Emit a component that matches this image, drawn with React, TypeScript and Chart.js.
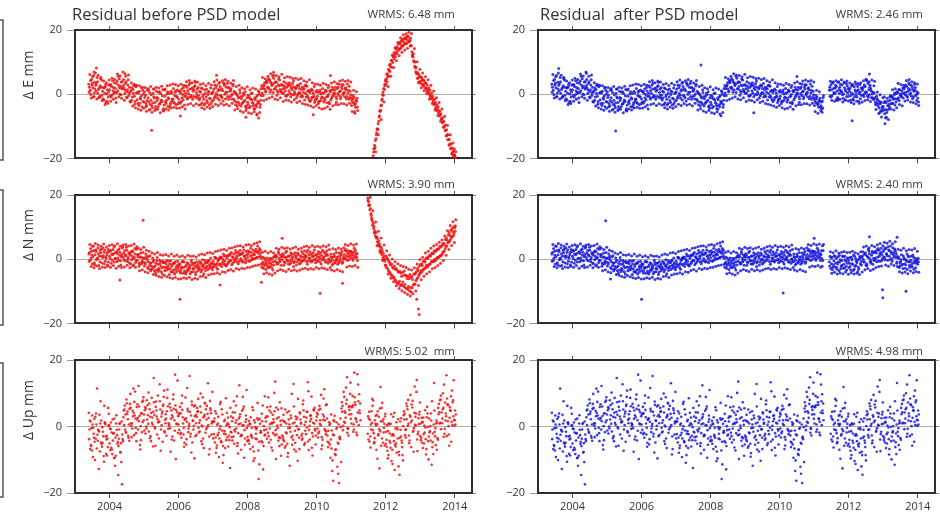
import React, { useEffect, useRef } from "react";
import { Chart, registerables } from "chart.js";

Chart.register(...registerables);

// ---------- sampling epochs (decimal years) ----------
// Each series is read in four interleaved passes (A, B, C, D), one value every 0.04 yr per pass.
const EPOCH_START = 2003.4;
const EPOCH_STEP = 0.04;
const PASS_OFFSETS = [0, 0.01, 0.02, 0.03];
const POST_START_INDEX = 195; // 2011.20

// ---------- axes ----------
const yearTicks = [2004, 2006, 2008, 2010, 2012, 2014];
const valueTicks = [-20, 0, 20];
const xRange = [2003, 2014.5];
const yRange = [-20, 20];

// ---------- labels ----------
const panelTitles = ["Residual before PSD model", "Residual  after PSD model"];
const componentLabels = ["\u0394 E mm", "\u0394 N mm", "\u0394 Up mm"];
const wrmsBefore = ["WRMS: 6.48 mm", "WRMS: 3.90 mm", "WRMS: 5.02  mm"];
const wrmsAfter = ["WRMS: 2.46 mm", "WRMS: 2.40 mm", "WRMS: 4.98 mm"];

// ---------- East residuals (mm), 2003.40 .. 2011.16 (same in both models) ----------
const eastPreA = [
  3.1, 1.2, 4.6, 2.0, 0.4, 2.8, 5.2, 1.5, -0.6, 2.2, 0.9, -1.8, 2.4, 0.1, -0.9,
  1.4, 3.0, -0.2, 2.1, 0.6, 3.4, 1.1, 4.8, 2.5, 1.6, 2.7, 0.2, 3.9, 1.4, -0.4, 0.8, -1.9, 1.5, -0.6, 2.3, -1.7, 0.4, -2.8, -0.5, 1.2,
  -2.4, -0.3, -3.6, -1.1, 0.5, -1.9, -4.2, -0.8, -2.6, 0.9, -1.3, -3.1, 0.2, -2.2, -4.5, -0.6, -2.9, 0.8, -1.4, -3.3, 0.4, -1.6, -2.8, 1.1, -0.9,
  -1.5, 0.9, -2.3, -0.1, 1.0, 0.3, 2.2, -1.2, 1.6, -0.4, 1.9, -0.7, 2.6, 0.5, -1.3, -1.8, 0.6, -2.7, -0.2, 1.3, -0.9, -2.6, 0.7, -1.4, 0.2,
  0.8, -1.1, 2.0, -0.3, 1.5, 2.4, -0.6, 1.1, 3.2, -1.4, 0.6, 2.1, -0.8, 1.7, 0.1, -1.6, 0.5, -2.4, -0.7, -3.1, -0.8, -2.9, 0.3, -1.9, -3.6,
  -2.5, -0.6, -3.8, -1.7, -2.9, -1.2, -3.4, -0.4, -2.6, -4.1, -0.5, 1.8, 2.9, 0.7, 3.6, 2.2, 4.4, 1.3, 3.1, 5.0, 1.6, 3.7, 0.5, 2.6, 1.0,
  2.8, 0.4, 1.9, 3.5, -0.2, 1.1, 2.7, -0.1, 2.3, 0.8, 1.7, -0.5, 2.6, 0.3, 1.4, -0.7, 1.6, 0.2, 2.5, -1.1, 0.5, -1.7, 1.2, -0.6, -2.0,
  -1.4, 0.6, -2.2, 0.1, -0.9, 0.4, -1.8, 1.0, -0.6, -2.5, 0.7, -1.2, 1.5, 0.2, -0.8, 1.8, -0.4, 0.9, 2.3, -0.1, 0.6, 2.0, -0.7, 1.2, -1.0,
  -1.2, -2.6, -0.9, -3.0, -2.2,
];
const eastPreB = [
  0.6, 4.3, 2.9, -0.8, 3.7, 1.0, 3.9, -1.1, 2.6, 4.4, -1.4, 1.9, 3.1, -2.2, 0.7,
  2.9, -0.9, 4.2, 0.3, 1.8, 0.5, 5.6, 2.0, -0.2, 3.9, 4.6, 1.3, -0.9, 2.9, 0.4, -2.4, 1.9, 0.3, -3.1, 2.8, 0.6, -3.5, -1.1, 1.9, -2.3,
  0.7, -3.9, -2.0, 1.4, -4.8, -0.2, -2.7, 1.6, -3.8, -1.0, -3.9, 0.8, -2.4, -0.5, -5.2, 1.6, -1.9, -3.8, 0.2, -2.7, -2.1, 1.8, -0.4, -3.3, 1.3,
  0.9, -2.8, 1.6, -1.7, -3.4, 2.6, -1.5, 0.2, 3.4, -0.9, -1.6, 1.4, 3.7, -0.5, 2.1, 0.9, -3.2, 1.7, -1.6, -2.9, 1.6, -0.1, -3.4, 1.9, -2.2,
  -1.8, 2.9, 0.2, -1.3, 3.4, -0.3, 1.7, -2.1, 2.8, 0.6, 3.3, -1.6, 0.9, -0.4, 2.6, 0.9, -3.3, -0.2, -2.5, 1.4, -3.7, -0.6, -2.3, 0.8, -4.4,
  -0.3, -4.2, -1.5, 0.4, -3.6, -4.6, -0.9, -2.9, 0.7, -3.2, 2.7, -0.4, 3.6, 1.0, 4.3, 4.8, 0.6, 3.4, 5.6, 1.7, 3.9, -0.3, 2.9, 4.4, 0.8,
  0.3, 3.9, 1.1, -0.6, 2.7, 3.6, -0.8, 1.5, 4.1, 0.2, -1.2, 2.9, 0.5, 3.3, -0.4, 1.9, -1.8, 2.8, -0.5, 1.2, -2.3, 1.6, -0.9, 2.4, -1.5,
  1.2, -2.9, 0.7, -1.9, 1.8, -2.4, 1.3, -0.8, 2.1, -3.0, -1.7, 2.2, -0.2, 1.3, -2.5, 0.2, 3.1, -1.4, 1.6, 2.9, -0.8, 1.4, 3.2, -1.6, 0.9,
  -3.5, -0.4, -2.7, -4.1, -1.3,
];
const eastPreC = [
  2.2, -0.1, 3.4, 5.8, 1.6, 3.3, 0.3, 2.0, 4.9, -0.3, 2.1, 0.3, -2.6, 1.4, 2.9,
  -0.4, 2.4, 1.1, 3.6, -1.2, 4.1, 2.8, 0.1, 3.8, 1.9, 1.9, 3.3, 0.8, 4.5, 2.2, 1.1, -0.9, 2.7, -2.3, 0.4, -2.9, 0.9, -1.5, -3.9, 0.1,
  -1.0, -2.9, 1.2, -2.4, -3.1, -3.5, 0.3, -1.2, -4.6, -2.0, 0.6, -2.9, -1.8, 1.5, -3.4, -2.4, 0.1, -1.1, -4.0, 0.9, -1.5, -2.6, 0.6, -0.7, -3.0,
  -2.4, 0.4, -1.1, 2.1, -0.6, -0.6, 1.1, 2.9, -0.8, 1.7, 0.9, 2.4, -1.0, 1.6, -0.3, -1.2, 1.9, -0.7, -3.4, 0.3, -2.0, 0.9, -1.3, -2.9, 0.4,
  1.6, -0.6, 2.7, 1.0, -1.8, 1.3, -1.1, 3.6, 0.0, 2.2, -0.7, 2.0, 1.2, -1.5, 3.1, -2.1, 0.2, -3.7, -1.2, 0.5, -1.4, -2.6, -0.2, -3.9, -1.1,
  -3.2, -1.3, 0.2, -2.6, -4.5, -1.7, -3.8, -2.2, 0.0, -1.9, 0.4, 2.5, 1.6, 4.0, 2.1, 1.6, 3.8, 2.7, 0.5, 3.6, 2.4, 1.1, 4.7, 1.5, 3.0,
  1.7, 2.6, -0.5, 2.2, 3.0, 0.4, 1.9, 3.3, -0.2, 2.0, 2.4, 0.1, 1.8, -0.9, 2.2, 0.6, 2.6, -0.9, 0.9, -1.8, 1.1, -1.0, 0.3, -2.6, 0.8,
  -0.6, -2.3, 1.3, -1.1, 0.4, -1.3, 0.8, -2.7, -0.1, 1.1, 1.2, -0.6, 0.4, 2.2, -1.4, 2.2, 0.8, -0.8, 3.0, 0.3, 1.8, -1.4, 0.4, 2.5, -0.2,
  -2.0, -1.4, -3.3, -1.9, -4.0,
];
const eastPreD = [
  6.1, -1.2, 5.4, -0.8, 6.6, -1.5, 5.9, -0.9, 5.2, -2.0, 4.1, -3.2, 3.6, -2.9, 4.4,
  -2.2, 5.0, -1.6, 4.6, -2.6, 6.3, -0.8, 5.7, -1.3, 6.9, -1.9, 5.6, -1.1, 6.0, -2.3, 3.6, -3.7, 3.1, -4.2, 2.7, -4.6, 2.6, -5.0, 2.2, -4.4,
  2.1, -5.3, 1.8, -4.9, 2.4, -5.6, 1.6, -5.1, 2.2, -4.7, 1.9, -5.8, 2.5, -5.0, 1.3, -4.6, 2.6, -4.9, 2.9, -4.3, 3.2, -4.1, 3.0, -4.4, 2.6,
  -4.3, 3.1, -3.9, 2.8, -4.6, 3.9, -3.2, 4.3, -2.9, 3.6, -3.5, 4.1, -3.0, 3.8, -3.4, 3.0, -4.2, 3.3, -4.6, 2.7, -4.0, 3.4, -4.4, 2.9, -3.8,
  3.9, -3.1, 4.4, -3.5, 3.7, -2.9, 4.2, -3.4, 4.6, -3.1, 4.0, -3.6, 3.5, -2.8, 4.3, -4.9, 2.4, -4.5, 2.8, -5.2, 2.0, -5.6, 1.7, -5.1, 2.3,
  -5.8, 1.4, -6.0, 1.9, -5.5, 1.6, -6.2, 1.1, -5.7, 1.8, 5.2, -2.0, 4.8, -1.6, 5.6, -1.2, 6.4, -0.8, 6.0, -1.5, 5.8, -1.7, 5.4, -1.1, 6.2,
  -2.3, 5.1, -1.8, 5.5, -2.0, 5.3, -2.4, 4.9, -1.7, 5.0, -2.6, 4.6, -2.2, 4.9, -2.9, 4.2, -3.1, 3.8, -3.4, 4.5, -3.7, 3.6, -4.1, 3.2, -3.5,
  3.1, -4.2, 2.8, -4.6, 3.4, -4.4, 3.0, -3.9, 2.7, -4.7, 3.5, -3.6, 3.9, -3.2, 3.3, -3.3, 4.1, -2.9, 4.4, -3.0, 4.0, -3.4, 4.3, -2.8, 3.8,
  -5.4, 1.2, -5.9, 0.8, -5.1,
];

// East, 2011.20 .. 2014.00, before PSD model (post-seismic transient)
const eastPostBeforeA = [
  null, null, null, null, null, null, null, null, null, null, null, -19.2, -15.9, -13.9, -10.8, -8.4, -5.2, -3.4, 0.6, 1.5,
  4.6, 3.9, 7.8, 7.1, 10.6, 9.9, 12.9, 11.7, 14.8, 13.6, 16.2, 14.4, 17.1, 15.3, 17.6, 15.7, 18.1, 16.4, 17.4, 13.2, 12.6, 8.7, 8.4, 4.9, 6.1,
  3.6, 5.2, 2.7, 4.1, 1.6, 2.9, 0.1, 1.3, -1.4, -0.6, -3.3, -2.6, -5.1, -4.0, -6.8, -6.1, -8.9, -8.4, -11.3, -11.1, -14.2, -14.1, -17.0, -16.7, -19.2,
  -18.9,
];
const eastPostBeforeB = [
  null, null, null, null, null, null, null, null, null, null, null, -18.0, -16.6, -12.6, -10.9, -7.1, -5.0, -1.9, -0.3, 3.0,
  3.1, 6.4, 5.6, 9.3, 8.4, 11.9, 11.0, 14.1, 12.6, 15.6, 14.1, 16.6, 14.9, 17.3, 15.8, 17.9, 16.2, 16.8, 15.1, 12.3, 10.4, 10.0, 6.6, 6.7, 3.9,
  5.3, 3.1, 4.4, 2.2, 3.5, 0.9, 2.0, -0.8, 0.4, -2.4, -1.6, -4.4, -3.3, -5.9, -5.2, -7.8, -7.3, -10.2, -9.6, -12.9, -12.6, -15.8, -15.4, -18.3, -17.6,
  -19.6,
];
const eastPostBeforeC = [
  null, null, null, null, null, null, null, null, null, null, null, -17.1, -14.4, -12.0, -9.2, -6.7, -3.6, -1.5, 1.8, 2.6,
  4.8, 5.5, 7.4, 8.7, 10.4, 11.6, 12.4, 13.1, 14.5, 14.0, 15.7, 15.1, 16.6, 16.0, 17.3, 16.9, 17.8, 16.6, 15.2, 11.8, 10.1, 8.2, 6.4, 5.1, 5.7,
  4.0, 4.6, 3.0, 3.5, 1.9, 1.4, 0.5, -0.3, -1.1, -1.8, -3.0, -3.9, -4.8, -5.4, -6.5, -7.6, -8.6, -9.9, -11.2, -12.6, -14.1, -15.5, -16.9, -18.0, -19.0,
  -19.8,
];
const eastPostBeforeD = [
  null, null, null, null, null, null, null, null, null, null, null, -16.8, -17.9, -10.9, -12.6, -5.3, -7.9, -0.2, -2.4, 4.1,
  6.2, 2.4, 9.1, 5.6, 12.2, 8.3, 14.5, 10.4, 16.1, 12.0, 17.6, 13.1, 18.5, 13.8, 18.8, 14.3, 19.3, 15.0, 18.9, 11.6, 14.2, 7.0, 10.1, 3.6, 7.8,
  2.0, 6.6, 1.1, 5.4, 0.3, 4.5, -1.6, 2.8, -2.9, 1.0, -4.9, -1.1, -6.6, -2.6, -8.4, -4.6, -10.3, -6.9, -13.0, -9.7, -15.8, -12.6, -18.6, -15.2, -17.1,
  -17.9,
];

// East, 2011.20 .. 2014.00, after PSD model
const eastPostAfterA = [
  -3.6, -2.1, null, null, null, null, 1.2, 2.9, -0.4, 1.8, 0.3, 2.4, -1.0, 1.5, 3.1, 0.6, -1.3, 2.0, 0.9, 2.6,
  -0.6, 1.9, 0.4, -1.5, 2.3, 0.7, -0.9, 1.4, 3.0, -0.3, 1.2, -0.7, 2.4, 0.5, 3.3, -0.2, 1.7, 0.1, -1.6, -1.1, -2.8, -1.9, -4.2, -3.0, -5.3,
  -3.8, -6.1, -2.7, -4.9, -3.2, -1.9, -0.6, -2.8, -0.2, -1.4, 0.8, -1.1, 1.4, -0.5, 0.3, 1.6, -0.2, 2.5, 0.9, 3.1, 0.4, 2.2, -0.8, 1.3, -0.1,
  -1.2,
];
const eastPostAfterB = [
  -2.4, -4.3, null, null, null, null, 2.2, -0.9, 3.4, 0.5, 1.9, -1.6, 3.7, 0.2, 1.0, 2.9, 0.1, -1.8, 3.3, 0.4,
  1.6, -1.9, 2.8, 0.0, -0.8, 3.1, 1.1, -2.2, 0.6, 2.0, -0.3, 2.9, 0.8, 4.1, -0.9, 2.2, 1.0, -1.2, 2.6, -2.4, -0.6, -3.6, -2.2, -5.1, -3.9,
  -5.0, -2.2, -7.2, -3.6, -4.6, -0.4, -2.9, -1.3, 0.4, -2.4, -1.6, 1.5, 0.1, -0.9, 2.0, 0.4, 2.9, -0.6, 1.8, 0.0, 2.8, -1.4, 0.9, 2.1, -2.0,
  0.4,
];
const eastPostAfterC = [
  -4.5, -1.0, null, null, null, null, -0.6, 1.4, 3.8, 0.2, 2.8, 0.9, -1.6, 2.2, 1.1, -0.2, 3.6, 1.3, -0.7, 1.8,
  0.9, -0.4, 2.6, -1.8, 1.3, -0.2, 2.4, 0.3, -1.4, 1.7, 2.1, 0.2, 4.6, -0.5, 1.4, 2.8, -1.0, 0.7, 0.4, -3.3, -1.4, -2.9, -5.7, -2.5, -4.4,
  -2.6, -4.8, -5.7, -2.1, -3.9, -3.0, -0.9, -1.6, -3.4, 0.2, 0.5, -2.0, -0.3, 1.1, -1.2, 2.2, 0.6, -0.9, 3.6, 1.4, -0.6, 1.5, 3.0, -0.4, 0.8,
  -2.4,
];
const eastPostAfterD = [
  -5.6, -0.4, null, null, null, null, 4.0, -1.9, 3.7, -2.2, 4.2, -2.0, 3.9, -1.6, 4.5, -2.4, 3.8, -1.8, 4.1, -2.1,
  3.5, -2.6, 3.1, -3.0, 3.8, -2.2, 3.3, -2.8, 3.6, -2.4, 4.2, -2.0, 4.6, -1.7, 3.9, -2.3, 4.4, -1.5, 4.0, -4.8, 0.7, -6.0, -0.2, -7.1, -1.1,
  -0.8, -7.4, -1.3, -7.9, -0.9, -4.6, 1.4, -4.9, 1.7, -4.2, 3.4, -3.2, 3.0, -3.6, 2.8, -2.1, 4.3, -1.8, 4.6, -2.4, 3.9, -2.6, 3.6, -3.0, 3.2,
  -3.5,
];

// ---------- North residuals (mm), 2003.40 .. 2011.16 ----------
const northPreA = [
  1.6, -0.4, 2.5, 0.8, -1.1, 2.9, 0.3, 1.7, -0.8, 3.1, 0.5, 2.2, -0.6, 1.4, 3.0,
  0.9, 2.6, -0.3, 1.8, 0.2, 2.3, 0.4, 3.2, -0.5, 1.5, 0.6, 2.7, 1.1, -0.7, 2.0, 1.3, -0.2, 2.4, 0.5, -1.0, -0.3, 1.4, -1.6, 0.7, -0.9,
  0.4, -1.5, 0.9, -0.8, -2.0, -1.2, -2.9, -0.3, -2.1, -3.4, -1.6, -3.3, -0.8, -2.7, -1.1, -3.6, -1.4, -2.5, -0.6, -3.0, -2.2, -4.1, -1.3, -3.2, -2.0,
  -3.5, -1.6, -2.9, -4.4, -0.9, -2.3, -3.8, -1.4, -2.8, -4.0, -1.7, -3.1, -2.2, -0.8, -3.6, -2.4, -1.0, -3.3, -1.8, -0.4, -2.7, -1.1, -0.3, -2.2, -1.5,
  -0.6, -2.0, 0.4, -1.3, -0.2, -1.5, 0.6, -0.8, 1.0, -1.9, 0.3, -1.1, 1.2, -0.4, 0.8, 1.6, -0.3, 0.9, 2.2, -0.6, 0.2, 1.8, -0.7, 1.1, 2.4,
  0.5, 2.3, 1.0, -0.2, 2.9, 1.4, 3.1, 0.6, 2.5, 1.8, 0.3, -0.9, -2.0, -0.4, -1.7, -0.5, -2.3, -1.1, 0.4, -1.8, -0.6, 0.9, -1.4, 0.3, 1.2,
  -0.2, 1.3, -1.0, 0.6, -0.5, 0.9, -1.3, 0.2, 1.6, -0.7, 0.4, -0.9, 1.5, -0.3, 0.7, 1.8, -0.1, 0.9, 2.2, -0.6, 0.3, 1.6, -0.4, 1.1, 0.0,
  1.4, -0.5, 0.8, 2.1, -0.2, 0.6, 1.9, -0.7, 1.2, 0.1, -0.8, 0.5, -1.4, 0.9, -0.3, 0.7, -1.1, 0.2, 1.3, -0.9, 1.5, 0.1, 2.3, 0.8, 1.9,
  0.4, 2.0, 1.1, 2.8, 0.6,
];
const northPreB = [
  -0.6, 3.3, 1.2, 4.0, -1.7, 2.4, 0.1, -2.0, 2.8, 1.0, 3.6, -1.4, 0.6, 2.1, -0.9,
  2.7, -1.3, 1.4, 3.8, 0.3, -0.8, 2.9, 1.2, -1.8, 3.5, 1.9, -0.5, 3.7, 0.0, 1.6, -1.4, 2.6, 0.2, 3.3, -0.4, 1.5, -2.2, 0.6, -1.4, 2.1,
  -2.1, 1.6, -0.2, -3.0, 1.1, -3.2, 0.4, -2.4, -4.3, -0.5, -3.8, -0.3, -2.2, -4.6, -1.0, -0.9, -3.4, -2.1, -4.8, -0.4, -3.9, -1.3, -4.6, -2.4, -0.6,
  -1.4, -4.3, -2.6, -0.6, -3.7, -4.6, -1.1, -3.4, -2.0, -0.3, -3.9, -1.2, -4.8, -2.6, -1.5, -0.7, -3.9, -2.2, -4.5, -1.3, -0.8, -3.2, -1.9, 0.4, -2.6,
  -2.4, 0.6, -1.7, -3.1, 0.3, 0.7, -2.3, -0.1, -1.6, 1.1, -1.6, 1.4, -0.3, 2.1, -1.3, -0.8, 2.7, 0.3, -1.4, 1.7, 1.5, -0.9, 2.9, 0.2, -0.5,
  2.6, -0.6, 3.4, 0.3, 1.7, 0.2, 2.4, 4.1, 0.8, 2.9, -2.5, 0.6, -1.4, -3.2, 0.4, -2.7, 0.3, -1.8, -3.4, 0.8, 1.4, -1.5, 2.3, -0.8, -1.9,
  1.7, -1.9, 0.5, 2.5, -1.4, -1.6, 2.0, -0.6, -2.3, 1.1, -1.8, 1.9, 0.1, -1.2, 2.4, -0.4, 2.6, 0.6, -1.6, 1.4, 2.3, -0.9, 0.8, 2.9, -1.1,
  -0.7, 2.4, 0.2, -1.5, 2.8, 2.3, -0.9, 1.6, -1.3, 3.0, 1.6, -1.8, 0.8, -1.1, 2.1, -1.6, 1.9, -0.6, 2.4, 0.0, 0.2, 3.0, -0.4, 2.6, 1.1,
  2.4, -0.3, 3.4, 0.5, 1.8,
];
const northPreC = [
  2.1, 0.3, -1.5, 2.7, 1.4, -0.2, 3.5, 0.9, 2.0, -1.2, 1.1, 2.9, 0.4, -1.8, 2.3,
  0.2, 1.6, 3.0, -0.9, 2.2, 1.8, -0.4, 2.2, 0.8, 3.9, -0.2, 1.4, 2.8, 0.5, -1.2, 2.2, 0.9, -1.7, 1.6, 3.1, 0.8, -1.2, 1.9, -0.6, 0.3,
  -1.0, 0.3, -2.6, 0.8, -1.2, -2.2, -0.8, -3.6, -1.3, 0.5, -2.9, -1.5, -3.9, -0.6, -2.4, -2.6, -0.4, -3.1, -1.5, -3.9, -1.6, -3.3, -0.8, -4.0, -2.7,
  -2.1, -3.7, -0.8, -2.5, -4.2, -1.8, -3.2, -2.4, -4.5, -1.0, -2.8, -1.3, -4.1, -2.0, -3.0, -3.1, -1.5, -0.2, -2.7, -3.5, -2.2, -0.5, -2.8, -1.2, -3.3,
  -1.4, 0.5, -2.6, -0.4, -1.8, 0.3, -1.4, 1.6, -0.6, -2.1, 0.9, -0.8, 1.7, -1.7, 0.5, 0.1, 1.9, -0.9, 1.2, 2.8, -0.3, 2.0, 0.9, -1.1, 1.4,
  1.6, -0.5, 2.2, 1.2, 0.1, 2.4, 0.5, 1.9, 3.3, 0.9, -1.4, -2.8, 0.2, -1.1, -2.4, -1.3, -0.2, -2.7, -0.8, 0.9, 0.6, -1.0, 1.8, -0.4, 0.8,
  0.8, -0.9, 2.1, -0.3, 1.0, -0.5, 1.3, 0.6, -1.1, 2.0, 1.1, -0.2, -1.5, 0.9, -0.6, 0.7, 1.3, -0.7, 2.9, 0.4, -0.5, 1.1, 2.0, -0.2, 1.4,
  0.6, 1.7, -0.9, 1.2, 0.3, -0.2, 1.1, 2.6, 0.0, -0.6, 0.8, -0.3, 1.6, -0.9, 0.2, -0.4, 0.9, 1.8, -1.3, 0.6, 2.7, 0.9, 1.6, -0.2, 2.5,
  1.3, 0.2, 2.2, 1.5, -0.4,
];
const northPreD = [
  4.6, -2.3, 4.1, -2.7, 4.9, -2.1, 4.4, -2.9, 4.0, -2.4, 4.7, -2.6, 3.8, -2.2, 4.3,
  -2.5, 4.5, -2.0, 4.2, -2.8, 4.8, -2.2, 4.0, -2.6, 4.4, -2.4, 4.6, -1.9, 4.1, -2.7, 4.3, -2.1, 4.7, -2.5, 3.9, 3.4, -3.6, 3.0, -3.3, 3.7,
  -3.9, 2.8, -4.2, 2.5, -3.6, 1.9, -4.8, 1.6, -5.0, 2.1, -5.4, 1.4, -5.6, 1.2, -5.1, 1.5, -5.5, 1.0, -5.8, 1.6, -6.0, 0.9, -5.7, 1.3, -6.2,
  0.8, -6.1, 1.1, -5.8, 0.6, -6.0, 1.2, -5.6, 0.9, -6.3, 1.0, -5.9, 0.7, -6.2, 1.3, -5.4, 1.6, -5.2, 1.4, -5.7, 1.9, -4.9, 2.1, -4.6, 1.8,
  -4.5, 2.4, -4.2, 2.6, -4.6, 2.9, -3.9, 3.1, -4.1, 2.7, -3.5, 3.4, -3.2, 3.6, -3.7, 3.9, -2.9, 4.1, -3.2, 4.2, -2.8, 3.8, -3.0, 4.4, -2.6,
  4.6, -2.5, 4.3, -2.2, 4.8, -2.0, 5.1, -1.8, 5.4, -1.6, 2.2, -4.5, 2.5, -4.2, 1.9, -4.6, 2.4, -4.9, 2.0, -4.3, 3.4, -3.6, 3.1, -3.2, 3.7,
  -3.5, 3.3, -3.8, 3.6, -3.1, 3.2, -3.6, 3.5, -3.3, 3.8, -3.7, 3.1, -3.4, 3.4, -3.0, 3.9, -2.8, 4.1, -3.2, 3.7, -2.9, 4.3, -3.1, 3.8, -2.6,
  4.0, -3.0, 3.7, -2.7, 4.2, -2.9, 3.9, -3.2, 4.4, -2.6, -3.4, 3.3, -3.7, 3.0, -3.2, 3.5, -3.6, 3.2, -3.9, 3.6, 4.6, -2.4, 4.3, -2.1, 4.8,
  -2.3, 4.4, -2.0, 4.7, -2.5,
];

// North, 2011.20 .. 2014.00, before PSD model
const northPostBeforeA = [
  null, null, null, null, null, null, null, 19.1, 17.0, 15.8, 12.4, 11.2, 8.1, 8.3, 5.4, 5.6, 2.9, 3.4, 0.5, 1.1,
  -1.8, 0.4, -3.5, -1.2, -4.9, -2.4, -5.6, -3.1, -7.2, -4.0, -6.9, -4.3, -8.1, -5.0, -7.9, -5.2, -9.4, -6.1, -8.8, -5.4, -8.0, -4.6, -6.7, -2.9, -5.1,
  -4.4, -1.5, -3.3, -0.4, -2.6, 0.5, -1.9, 1.2, -0.9, 1.9, -0.6, 2.4, 0.2, 3.1, 0.9, 3.8, 1.7, 5.0, 3.2, 6.7, 5.1, 8.3, 6.2, 9.6, 7.4,
  9.8,
];
const northPostBeforeB = [
  null, null, null, null, null, null, null, 18.4, 16.8, 14.2, 11.9, 9.6, 8.9, 6.7, 6.4, 4.1, 3.9, 1.5, 1.9, -0.6,
  0.9, -2.8, -0.6, -4.3, -1.5, -5.7, -2.1, -6.6, -3.4, -7.5, -3.8, -7.9, -4.1, -8.6, -4.9, -9.1, -5.3, -9.8, -5.7, -8.9, -4.6, -7.8, -3.9, -5.8, -2.2,
  -1.6, -3.9, -0.7, -2.8, 0.2, -2.4, 0.9, -1.5, 1.8, -0.8, 2.6, -0.3, 3.2, 0.5, 4.0, 1.2, 4.7, 2.4, 6.1, 4.1, 7.6, 5.6, 9.0, 6.9, 10.1,
  8.7,
];
const northPostBeforeC = [
  null, null, null, null, null, null, null, 17.9, 15.4, 13.7, 10.6, 10.2, 7.2, 6.9, 4.6, 4.7, 2.0, 2.6, -0.2, 0.1,
  -2.5, -0.1, -3.9, -1.8, -5.0, -2.8, -6.3, -2.9, -7.6, -3.9, -8.3, -5.3, -7.1, -3.7, -9.0, -6.0, -8.5, -4.8, -10.2, -6.3, -7.7, -4.4, -6.2, -3.5, -4.5,
  -3.6, -2.0, -3.1, -0.9, -1.9, 0.3, -1.6, 1.0, -0.6, 1.7, 0.0, 2.7, 0.6, 3.3, 1.1, 4.2, 2.3, 4.6, 3.9, 6.0, 5.4, 7.4, 7.0, 8.6, 8.0,
  10.4,
];
const northPostBeforeD = [
  null, null, null, null, null, null, null, 16.8, 19.3, 12.9, 15.1, 8.4, 11.6, 4.2, 8.7, 2.3, 6.6, -0.3, 4.4, -1.9,
  2.6, -4.6, 1.3, -5.9, 0.1, -7.0, -0.8, -8.3, -1.4, -9.1, -2.0, -9.8, -2.3, -10.4, -2.6, -10.9, -3.1, -11.5, -3.4, -10.8, -2.7, -9.9, -1.5, -8.2, -0.1,
  -6.4, 0.6, -5.3, 1.9, -4.5, 2.5, -3.9, 3.4, -3.0, 4.1, -2.6, 4.6, -2.0, 5.3, -1.3, 6.0, -0.4, 7.2, 1.2, 8.9, 3.0, 10.5, 4.3, 11.7, 5.2,
  12.3,
];

// North, 2011.20 .. 2014.00, after PSD model
const northPostAfterA = [
  1.4, 4.2, null, null, null, null, -0.8, -2.9, 0.6, -1.7, -2.4, 0.3, -1.5, -3.6, -0.2, -1.9, 0.8, -2.7, -0.6, -1.3,
  -0.4, -2.3, 0.5, -1.6, -3.1, 0.2, -1.1, -2.5, 0.9, -0.7, 1.1, -0.8, 2.0, -1.4, 0.6, 1.8, -0.5, 2.5, 0.3, -0.2, 1.9, 0.7, 2.8, -0.6, 1.5,
  2.4, 0.5, 3.3, 1.1, 2.9, -0.1, 1.8, 3.6, 0.7, 2.2, -0.9, 0.8, -2.1, -0.2, -1.6, 0.4, -2.8, -0.6, 1.0, -1.9, -0.3, -2.4, 0.6, -1.2, -0.5,
  -1.6,
];
const northPostAfterB = [
  2.6, -0.4, null, null, null, null, -2.1, 0.4, -3.3, -0.5, 0.9, -2.6, -0.9, 1.2, -3.0, -0.4, -2.8, 0.9, -2.2, 0.3,
  -2.7, 0.6, -1.4, -3.5, 0.9, -2.0, -0.3, -3.1, 0.4, -1.8, 2.3, -0.9, 1.4, -2.0, 3.1, 0.2, -1.3, 1.9, -0.4, 2.4, -0.8, 3.3, 0.9, 2.1, -0.3,
  0.8, 3.6, 1.6, -0.3, 2.7, 4.1, 0.2, 2.0, 3.2, 0.6, -2.3, 0.3, -1.2, 1.4, -2.9, 0.0, -1.7, 1.6, -0.8, -2.5, 0.9, -1.3, -3.1, 0.2, -1.0,
  0.3,
];
const northPostAfterC = [
  0.2, 2.7, null, null, null, null, 0.9, -1.4, -2.5, 1.1, -1.2, -3.1, 0.8, -0.9, -2.2, 1.0, -1.6, -0.2, -3.4, 0.4,
  -1.3, -3.4, -0.2, 1.3, -2.2, -0.6, -3.9, 0.1, -1.5, 0.6, -0.1, 1.6, -1.9, 0.9, 2.6, -0.8, 1.2, -1.6, 2.1, 0.4, 2.9, -0.6, 1.6, 3.4, 0.2,
  2.9, -0.2, 1.7, 3.9, 0.9, 2.4, -0.6, 1.3, 2.8, 1.5, 0.5, -2.6, -0.7, -1.8, 1.0, -1.4, -0.2, -3.2, 0.8, -0.9, -2.0, 1.3, -0.6, -2.7, 0.0,
  -0.8,
];
const northPostAfterD = [
  -2.2, 4.6, null, null, null, null, 2.3, -4.4, 2.0, -4.1, 2.6, -4.6, 1.9, -4.3, 2.2, -4.5, 2.4, -4.0, 2.1, -4.7,
  2.2, -4.2, 2.5, -4.6, 2.0, -4.4, 1.7, -4.8, 2.3, -4.0, 3.8, -3.3, 4.1, -2.9, 3.6, -3.5, 4.3, -3.1, 3.9, -2.6, 4.5, -2.3, 4.9, -2.1, 4.2,
  5.3, -1.8, 5.0, -2.2, 5.6, -1.5, 4.8, -2.0, 5.4, -1.3, 3.1, -3.9, 2.8, -4.3, 3.4, -4.0, 2.6, -4.5, 3.0, -3.7, 2.9, -4.2, 3.3, -3.8, 2.5,
  -4.1,
];

// ---------- Up residuals (mm), 2003.40 .. 2014.00 (same in both models) ----------
const upA = [
  4.1, -6.8, -0.5, -9.2, 2.3, -3.7, 11.4, -1.2, -7.5, 1.8, -4.9, -10.6, 0.7, -2.8, 5.6,
  -5.1, 1.2, -8.3, -2.0, -11.8, 3.4, -4.6, -0.9, -7.7, -17.4, 2.8, 6.3, -1.9, 4.5, 0.6, 9.8, -3.2, 3.1, 7.4, -0.4, 2.1, 12.2, -5.6, 4.0, 1.3,
  3.6, -2.1, 7.9, 0.8, 5.2, -4.4, 2.7, 14.6, -0.6, 4.8, 9.3, 1.5, -7.3, 3.9, 6.6, -1.8, 2.4, 11.1, 0.3, 5.7, -3.9, 8.2, 1.9, -9.8, 4.3,
  0.6, 5.9, -3.4, 2.8, -6.1, 8.7, 1.4, -1.7, 15.2, 3.3, -4.8, 0.2, 6.4, -2.5, 4.6, 1.1, 9.9, -5.3, 2.7, 7.1, -0.8, 3.8, -8.4, 5.5, 0.9,
  -3.6, 2.4, -7.9, 0.5, -1.9, 6.8, -4.7, -10.9, 1.6, -2.3, 4.1, -6.0, -0.2, 3.0, -4.2, 7.6, -1.5, 1.9, -8.1, 12.4, -2.9, 4.7, 0.4, -5.5, 2.2,
  -3.1, 1.7, -6.8, -0.4, 4.9, -9.6, -2.2, 2.5, -15.8, 0.8, -4.4, 6.3, -1.1, 2.6, -3.7, 8.8, -0.6, 4.2, -7.2, 1.3, 13.5, -2.4, 5.1, -5.9, 0.5,
  -2.7, 3.5, -6.4, 0.9, -9.1, 4.6, -1.6, 9.8, -4.0, 1.2, -7.5, 2.7, -0.8, 3.9, -2.8, 6.7, -5.6, 1.4, -0.3, 10.6, -3.9, 2.3, -8.7, 4.8, -1.2,
  2.9, -3.3, 6.2, 0.4, -5.7, 8.4, 1.8, -1.5, -4.6, 1.3, -9.4, -1.2, -16.3, 3.2, -6.9, -12.1, 0.6, -3.8, 5.4, -1.1, 8.9, 2.6, 14.8, -2.7, 6.1,
  3.7, 9.2, -0.9, 6.5, 1.4, 12.6, 4.8, null, null, null, null, null, -2.2, 4.4, -6.3, 1.1, 7.8, -3.5, 0.3, -9.7, 2.9, -1.4, 5.6, -4.9, 0.8,
  -5.2, 0.4, -8.6, -2.1, 3.7, -11.3, -4.4, -0.6, -7.9, 2.2, -14.5, -3.0, -6.2, 3.4, -2.6, 6.9, 0.2, -5.0, 9.5, 1.8, -1.3, 12.0, 3.9, -7.4, 0.7,
  -2.9, 2.6, -6.5, 0.3, -3.8, 5.9, -9.9, -1.4, 1.8, -4.7, 13.1, -0.5, -7.0, 5.6, 0.9, 9.3, 2.4, -3.1, 7.2, 15.4, 1.6, -5.8, 4.7, 10.8, 3.1,
  1.9,
];
const upB = [
  -3.8, 1.5, -7.2, -0.4, -4.6, 3.9, -2.5, -12.8, 0.9, -5.3, -1.6, 6.2, -3.0, -8.7, 0.2,
  -0.6, -6.4, 2.1, -9.5, -3.3, -1.0, -14.6, 0.8, -5.0, -2.4, 4.8, -0.9, 8.1, 2.2, -4.3, 5.6, 0.9, 11.4, 3.3, -2.0, 6.7, 1.6, -6.9, 3.9, 7.8,
  -1.2, 5.4, 2.1, 10.2, -3.5, 4.1, 0.5, 7.3, -5.8, 3.0, 1.2, 12.7, -0.9, 4.5, 8.9, 2.0, -2.8, 6.1, 0.6, -7.6, 3.4, 9.6, -1.3, 5.0, 13.8,
  3.6, -2.3, 7.0, 0.9, -4.9, 2.5, 11.6, -0.6, 4.4, -7.8, 1.8, 6.0, -2.9, 2.9, 8.3, -1.5, 4.2, 0.0, -6.5, 6.9, 2.1, 13.0, -3.0, 4.9, 1.5,
  1.4, -4.8, 3.9, -2.6, -9.2, 0.1, 5.2, -5.9, -1.4, 8.5, -3.3, 0.6, -12.5, -1.8, 4.3, -5.2, 1.1, 9.1, -2.0, 2.9, -7.0, 0.3, 6.0, -3.6, 11.0,
  0.3, -5.2, 2.8, -3.4, -10.4, 1.2, -0.8, 7.1, -4.6, -1.9, 3.8, -12.9, -2.7, 1.5, 5.8, -2.9, 0.7, -6.3, 3.5, 10.1, -1.1, 2.4, -4.3, 7.3, -8.8,
  1.9, -4.4, 5.1, -2.0, -8.0, 0.6, 3.3, -5.5, 12.8, -1.3, 2.2, -10.3, -3.4, 2.1, -4.0, 7.8, 0.5, -2.3, 4.4, -7.1, 1.6, 9.0, -3.0, 0.9, -5.4,
  4.1, -2.0, 0.8, 9.5, -4.0, 3.0, -1.2, 6.7, -6.2, 0.5, -3.9, -13.4, 1.9, -8.3, -0.7, -4.9, -17.0, 2.4, 7.3, 0.2, 4.6, 11.7, -1.9, 5.9, 9.8,
  0.9, 6.4, 16.2, 2.5, -2.6, 7.6, 4.0, null, null, null, null, null, 3.1, -4.5, 0.6, 8.3, -2.0, 1.9, -7.0, 4.6, -0.8, 11.9, -3.6, 2.2, -5.7,
  -1.6, -7.3, 1.0, -4.9, -10.4, -2.3, 4.1, -6.0, -0.4, -12.0, -3.4, 2.5, -8.6, 4.6, -1.0, 2.2, 8.0, -4.2, 1.3, 5.7, -7.6, 0.5, 10.4, -2.3, 3.6,
  0.9, -4.8, 2.7, -1.8, -8.4, 3.9, -3.0, 0.1, -11.5, -2.1, 4.8, -5.6, 1.2, 3.7, 7.9, -0.8, 5.2, 12.6, 1.8, -2.9, 6.4, 2.6, 9.1, 0.4, 13.9,
  4.8,
];
const upC = [
  -0.9, -5.6, 3.3, -2.2, -10.1, 0.6, -4.3, -1.5, 7.6, -6.1, -2.9, 1.1, -8.2, -3.6, 3.8,
  -7.1, -1.8, -4.2, 2.4, -8.8, -2.6, -5.9, 1.0, -10.7, -3.8, 0.4, 3.6, 7.0, -2.8, 5.3, 1.0, -0.6, 4.1, 10.5, -4.4, 2.6, 6.0, 0.1, -1.7, 8.8,
  4.9, 0.0, 6.4, -1.5, 2.9, 8.6, -6.0, 3.5, 5.9, -2.4, 1.4, 7.6, 3.0, -4.6, 10.8, 1.0, 4.6, -0.7, 6.8, 2.3, -3.0, 5.3, 15.6, 0.9, -1.9,
  -1.0, 4.0, 9.3, -2.4, 2.0, -5.4, 5.3, 0.2, -3.0, 7.5, 1.7, -9.6, 3.5, 5.6, -0.4, 1.9, -4.4, 8.8, 3.1, -1.9, 6.2, 0.4, -6.8, 4.0, 10.4,
  -2.3, 4.6, -6.5, 0.9, -3.6, 7.4, -1.2, -8.6, 2.0, -4.1, 1.0, -2.8, 5.6, -3.2, 2.6, -1.0, 6.3, -5.9, 0.7, 3.7, -2.5, 8.9, -9.4, 1.4, -0.5,
  -4.0, 0.9, -2.5, 5.8, -7.5, -0.2, -3.8, 2.0, -11.4, -1.3, 1.6, -5.9, 9.1, -0.9, 3.0, -4.8, 6.0, 1.1, -2.0, 4.6, -9.8, 0.3, 2.8, -3.5, 5.5,
  -3.2, 1.5, -5.9, 4.2, -0.5, -11.8, 2.5, -2.8, 6.0, -4.9, 0.1, 8.3, -6.8, 0.8, -2.2, 4.9, -5.0, 2.7, 13.3, -1.0, 3.2, -6.4, 1.1, 5.6, -2.7,
  -0.6, 5.0, 1.9, -6.8, 3.6, 11.2, -2.3, 2.4, -1.3, -5.4, 3.6, -10.2, -2.6, -7.0, 1.2, -14.2, -3.4, -0.2, 4.4, 10.4, 1.1, 6.8, -0.5, 3.6, 13.2,
  5.8, -1.6, 8.8, 2.2, 15.7, 0.4, 6.9, null, null, null, null, null, -3.9, 2.0, -0.9, 6.2, -5.0, 0.8, 3.5, -2.7, -12.6, 1.6, 7.1, -1.8, 3.0,
  -4.0, -9.6, 0.6, -6.4, -2.7, 2.9, -13.1, -5.1, -0.9, -7.6, 1.5, -4.2, -10.2, 2.1, -3.3, 6.1, 0.8, 3.4, -6.2, 7.7, -0.5, 2.9, 14.0, -1.6, 4.4,
  -4.1, 1.4, -2.3, 4.9, -6.8, -0.1, 2.4, -4.2, 7.6, -8.3, -1.6, 0.9, -3.5, 6.8, 1.1, 4.2, 10.0, -2.2, 3.9, 8.4, 0.1, 5.8, -4.6, 7.3, 2.0,
  0.6,
];
const upD = [
  1.8, -5.9, 0.6, -3.4, 2.9, -6.6, -1.0, 3.5, -4.8, -0.2, -8.9, 1.2, -3.9, -6.2, 0.4,
  -0.8, -6.9, -2.1, -9.4, 0.9, -5.2, -3.7, -7.8, 1.5, -4.4, 5.1, -1.6, 3.8, -3.4, 6.8, 0.2, 4.7, -2.6, 2.4, 5.9, -0.9, 3.2, -4.1, 7.4, 1.9,
  5.8, -0.6, 3.4, 6.9, -2.9, 1.1, 4.4, -0.2, 7.5, 2.2, -3.6, 5.1, 0.4, 6.2, -1.4, 3.7, 8.6, 1.0, -0.5, 4.8, 2.8, -4.2, 6.3, 0.7, 3.1,
  3.9, -1.9, 5.0, -0.4, 2.2, -3.8, 4.6, 0.8, -2.2, 6.5, -0.9, 3.1, 1.0, 4.4, -1.8, 6.0, 0.3, -3.6, 3.5, 5.2, -0.2, 2.6, 7.7, -2.4, 1.4,
  1.5, -3.3, -5.7, 2.9, -0.8, -4.4, 3.6, -2.2, -6.5, 0.4, 2.7, -4.1, -1.6, 1.6, -3.0, 4.2, -0.6, -5.0, 2.4, 0.9, -2.7, 5.3, -1.1, 3.3, -4.4,
  -4.3, 0.7, -2.9, -6.1, 1.9, -3.6, -0.4, -7.2, 2.3, -1.7, -4.8, 0.1, -2.4, 3.1, -1.9, 4.8, -4.0, 0.9, 2.2, -2.6, 5.7, -0.5, -3.2, 1.7, -5.4,
  -3.9, 1.4, -1.8, -5.2, 2.1, -0.4, -3.3, 0.9, -6.9, 3.0, -2.6, -0.9, 4.3, 1.1, -3.6, 2.9, -1.3, 4.4, -4.5, 0.2, 3.4, -2.0, 5.1, -0.8, 1.8,
  3.6, -1.5, 5.3, -3.2, 2.0, -0.8, 6.4, -2.7, -4.9, 0.8, -6.6, -2.4, 1.6, -8.6, -0.3, -5.2, -3.1, -10.7, 6.2, 1.4, 4.1, 8.0, -0.7, 5.0, 2.3,
  5.9, 0.6, 7.3, -1.8, 4.2, 9.7, 1.9, null, null, null, null, null, 2.4, -3.0, 4.6, -1.1, -4.7, 3.2, 0.7, -2.3, 5.4, -5.8, 1.5, -0.4, 3.8,
  -6.1, -1.4, -4.3, 0.8, -7.0, -2.7, -5.5, 1.3, -3.6, -8.6, -1.0, -4.9, 0.1, 3.8, -0.9, 5.2, -2.7, 2.9, 6.6, -1.6, 4.1, 0.3, -3.9, 2.5, 7.2,
  -3.4, 1.2, -5.1, -0.3, 2.8, -4.4, -1.8, 3.9, -6.2, 0.6, -2.9, 1.8, -4.0, 4.3, 8.1, 1.0, 5.6, -0.7, 3.1, 6.7, -2.4, 4.9, 1.4, 7.9, 0.2,
  3.6,
];

// ---------- isolated outliers [epoch, mm] ----------
const eastBeforeOutliers = [
  [2003.62, 8.2], [2003.55, 6.9], [2004.45, 6.4], [2005.22, -11.2], [2006.05, -6.8], [2007.1, 5.9],
  [2007.95, -7.2], [2008.27, -6.5], [2008.32, -7.4], [2008.75, 6.8], [2009.9, -6.4], [2010.4, 5.8], [2011.1, -5.5],
];
const eastAfterOutliers = [
  [2005.25, -11.5], [2007.72, 9.1], [2003.6, 8.0], [2004.4, 6.5], [2008.3, -6.7], [2009.25, -5.8],
  [2012.1, -8.3], [2013.05, -9.2], [2012.6, 6.3], [2010.5, 5.5],
];
const northBeforeOutliers = [
  [2004.97, 12.1], [2006.04, -12.5], [2010.1, -10.6], [2010.75, -7.5], [2012.95, -15.5], [2012.97, -17.2],
  [2012.9, -12.5], [2004.3, -6.5], [2007.2, -8.0], [2009.0, 6.5], [2008.4, -7.2],
];
const northAfterOutliers = [
  [2004.96, 12.0], [2006.0, -12.5], [2010.1, -10.5], [2012.98, -9.5], [2012.99, -12.0], [2013.66, -10.0],
  [2005.1, -6.2], [2011.0, 6.5], [2012.6, 7.0], [2013.4, 6.8],
];

// ---------- styling ----------
const RED = "rgba(240, 18, 18, 0.85)";
const BLUE = "rgba(24, 24, 226, 0.85)";
const FRAME = "#2e2e2e";
const ZERO_LINE = "#b0ae9e";
const FONT = '"Open Sans", "Noto Sans", sans-serif';

const epochAt = (index: number, pass: number) =>
  Math.round((EPOCH_START + EPOCH_STEP * index + PASS_OFFSETS[pass]) * 10000) / 10000;

function seriesPoints(passes: (number | null)[][], startIndex: number) {
  const pts: { x: number; y: number }[] = [];
  passes.forEach((values, pass) => {
    values.forEach((v, k) => {
      if (v !== null) pts.push({ x: epochAt(startIndex + k, pass), y: v });
    });
  });
  return pts;
}
const pairPoints = (pairs: number[][]) => pairs.map(([x, y]) => ({ x, y }));

const formatValue = (v: number) => (v < 0 ? "\u2212" + Math.abs(v) : String(v));

const panelTextPlugin = {
  id: "panelText",
  afterDraw(chart: any, _args: any, opts: any) {
    const { ctx } = chart;
    ctx.save();
    ctx.textBaseline = "middle";
    if (opts.title) {
      ctx.font = `16.5px ${FONT}`;
      ctx.fillStyle = "#333";
      ctx.textAlign = "left";
      ctx.fillText(opts.title, opts.titleX, 15);
    }
    if (opts.wrms) {
      ctx.font = `11.5px ${FONT}`;
      ctx.fillStyle = "#3a3a3a";
      ctx.textAlign = "right";
      ctx.fillText(opts.wrms, opts.wrmsX, opts.wrmsY);
    }
    if (opts.ylabel) {
      ctx.save();
      ctx.translate(29, opts.ylabelY);
      ctx.rotate(-Math.PI / 2);
      ctx.font = `14px ${FONT}`;
      ctx.fillStyle = "#333";
      ctx.textAlign = "center";
      ctx.fillText(opts.ylabel, 0, 0);
      ctx.restore();
    }
    if (opts.bracket) {
      const [t, b] = opts.bracket;
      ctx.strokeStyle = "#555";
      ctx.lineWidth = 1.5;
      ctx.beginPath();
      ctx.moveTo(0, t);
      ctx.lineTo(3, t);
      ctx.lineTo(3, b);
      ctx.lineTo(0, b);
      ctx.stroke();
    }
    ctx.restore();
  },
};

type PanelSpec = {
  col: number;
  row: number;
  color: string;
  radius: number;
  points: { x: number; y: number }[];
  wrms: string;
};

const CANVAS_W = 477;
const rowTops = [0, 165, 330];
const rowHeights = [170, 170, 182];
const colLefts = [0, 463];
const titleXs = [72, 77];
const wrmsXs = [455, 460];
const wrmsYs = [15, 20, 22];
const ylabelYs = [75, 70, 80];
const brackets = [[20, 160], [25, 160], [33, 167]];

function Panel({ spec }: { spec: PanelSpec }) {
  const ref = useRef<HTMLCanvasElement>(null);
  const h = rowHeights[spec.row];
  useEffect(() => {
    const showX = spec.row === 2;
    const tickFont = { family: FONT, size: 11 };
    const chart = new Chart(ref.current as HTMLCanvasElement, {
      type: "scatter",
      data: {
        datasets: [
          {
            data: spec.points,
            backgroundColor: spec.color,
            borderWidth: 0,
            pointRadius: spec.radius,
            pointStyle: "circle",
          },
        ],
      },
      options: {
        responsive: false,
        animation: false,
        devicePixelRatio: 1,
        events: [],
        layout: { padding: 0 },
        plugins: {
          legend: { display: false },
          tooltip: { enabled: false },
          panelText: {
            title: spec.row === 0 ? panelTitles[spec.col] : null,
            titleX: titleXs[spec.col],
            wrms: spec.wrms,
            wrmsX: wrmsXs[spec.col],
            wrmsY: wrmsYs[spec.row],
            ylabel: spec.col === 0 ? componentLabels[spec.row] : null,
            ylabelY: ylabelYs[spec.row],
            bracket: spec.col === 0 ? brackets[spec.row] : null,
          },
        } as any,
        scales: {
          x: {
            type: "linear",
            position: "bottom",
            min: xRange[0],
            max: xRange[1],
            afterBuildTicks: (s: any) => {
              s.ticks = yearTicks.map((v) => ({ value: v }));
            },
            afterFit: (s: any) => {
              s.height = h - 163;
            },
            ticks: {
              display: showX,
              font: tickFont,
              color: "#333",
              padding: 2,
              maxRotation: 0,
              callback: (v: any) => String(v),
            },
            grid: { drawOnChartArea: false, drawTicks: true, tickLength: 5, color: "#444", lineWidth: 1 },
            border: { display: true, color: FRAME, width: 2 },
          },
          xT: {
            type: "linear",
            position: "top",
            min: xRange[0],
            max: xRange[1],
            afterBuildTicks: (s: any) => {
              s.ticks = yearTicks.map((v) => ({ value: v }));
            },
            afterFit: (s: any) => {
              s.height = 30;
            },
            ticks: { display: false },
            grid: { drawOnChartArea: false, drawTicks: true, tickLength: 4, color: "#555", lineWidth: 1 },
            border: { display: true, color: FRAME, width: 2 },
          },
          y: {
            type: "linear",
            position: "left",
            min: yRange[0],
            max: yRange[1],
            afterBuildTicks: (s: any) => {
              s.ticks = valueTicks.map((v) => ({ value: v }));
            },
            afterFit: (s: any) => {
              s.width = 75;
            },
            ticks: {
              font: tickFont,
              color: "#333",
              padding: 5,
              callback: (v: any) => formatValue(Number(v)),
            },
            grid: {
              drawTicks: true,
              tickLength: 8,
              tickColor: "#999",
              lineWidth: 1,
              color: (c: any) => (c.tick && c.tick.value === 0 ? ZERO_LINE : "rgba(0,0,0,0)"),
            },
            border: { display: true, color: FRAME, width: 2 },
          },
          yR: {
            type: "linear",
            position: "right",
            min: yRange[0],
            max: yRange[1],
            afterBuildTicks: (s: any) => {
              s.ticks = valueTicks.map((v) => ({ value: v }));
            },
            afterFit: (s: any) => {
              s.width = 5;
            },
            ticks: { display: false },
            grid: { drawOnChartArea: false, drawTicks: true, tickLength: 4, color: "#888", lineWidth: 1 },
            border: { display: true, color: FRAME, width: 2 },
          },
        } as any,
      },
      plugins: [panelTextPlugin as any],
    });
    return () => chart.destroy();
  }, []);
  return (
    <canvas
      ref={ref}
      width={CANVAS_W}
      height={h}
      style={{
        position: "absolute",
        left: colLefts[spec.col],
        top: rowTops[spec.row],
        width: CANVAS_W,
        height: h,
      }}
    />
  );
}

const eastPre = [eastPreA, eastPreB, eastPreC, eastPreD];
const northPre = [northPreA, northPreB, northPreC, northPreD];
const upResidual = [upA, upB, upC, upD];

const panels: PanelSpec[] = [
  {
    col: 0, row: 0, color: RED, radius: 1.5, wrms: wrmsBefore[0],
    points: [
      ...seriesPoints(eastPre, 0),
      ...seriesPoints([eastPostBeforeA, eastPostBeforeB, eastPostBeforeC, eastPostBeforeD], POST_START_INDEX),
      ...pairPoints(eastBeforeOutliers),
    ],
  },
  {
    col: 1, row: 0, color: BLUE, radius: 1.5, wrms: wrmsAfter[0],
    points: [
      ...seriesPoints(eastPre, 0),
      ...seriesPoints([eastPostAfterA, eastPostAfterB, eastPostAfterC, eastPostAfterD], POST_START_INDEX),
      ...pairPoints(eastAfterOutliers),
    ],
  },
  {
    col: 0, row: 1, color: RED, radius: 1.5, wrms: wrmsBefore[1],
    points: [
      ...seriesPoints(northPre, 0),
      ...seriesPoints([northPostBeforeA, northPostBeforeB, northPostBeforeC, northPostBeforeD], POST_START_INDEX),
      ...pairPoints(northBeforeOutliers),
    ],
  },
  {
    col: 1, row: 1, color: BLUE, radius: 1.5, wrms: wrmsAfter[1],
    points: [
      ...seriesPoints(northPre, 0),
      ...seriesPoints([northPostAfterA, northPostAfterB, northPostAfterC, northPostAfterD], POST_START_INDEX),
      ...pairPoints(northAfterOutliers),
    ],
  },
  { col: 0, row: 2, color: RED, radius: 1.3, wrms: wrmsBefore[2], points: seriesPoints(upResidual, 0) },
  { col: 1, row: 2, color: BLUE, radius: 1.3, wrms: wrmsAfter[2], points: seriesPoints(upResidual, 0) },
];

export default function App() {
  return (
    <div
      style={{
        position: "fixed",
        left: 0,
        top: 0,
        width: 940,
        height: 512,
        background: "#fff",
        overflow: "hidden",
      }}
    >
      {panels.map((p) => (
        <Panel key={`${p.col}-${p.row}`} spec={p} />
      ))}
    </div>
  );
}
